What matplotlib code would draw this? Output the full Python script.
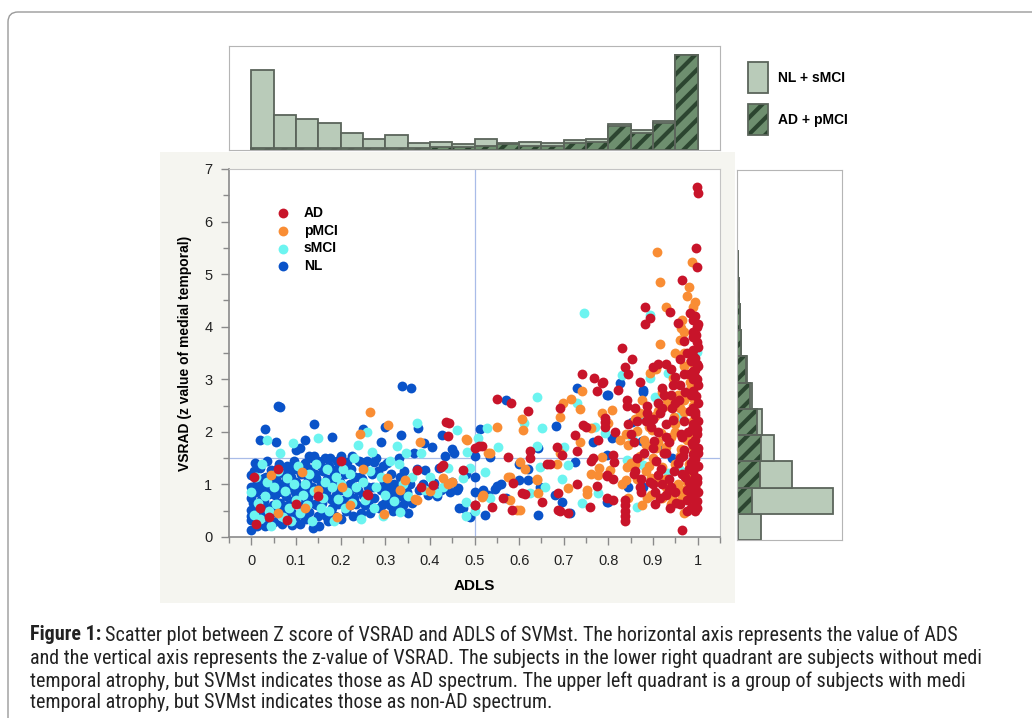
import matplotlib
matplotlib.use("Agg")
import matplotlib.pyplot as plt
import numpy as np
from matplotlib import font_manager
from matplotlib.patches import Rectangle, FancyBboxPatch
from matplotlib.transforms import IdentityTransform

plt.rcParams['font.family'] = ['Liberation Sans', 'DejaVu Sans']
plt.rcParams['hatch.linewidth'] = 3.0

# --- scatter data (ADLS, VSRAD z) ---
nl_x = [0.0, 0.0, 0.0, 0.0, 0.0, 0.0, 0.005, 0.01, 0.01, 0.012, 0.015, 0.018, 0.02, 0.022, 0.025, 0.028,
        0.03, 0.032, 0.035, 0.038, 0.04, 0.042, 0.045, 0.048, 0.05, 0.02, 0.03,
        0.055, 0.058, 0.06, 0.06, 0.065, 0.055, 0.062, 0.065, 0.068, 0.07, 0.072, 0.075, 0.078, 0.08, 0.082,
        0.085, 0.088, 0.09, 0.092, 0.095, 0.098, 0.1, 0.1, 0.1, 0.095,
        0.105, 0.108, 0.11, 0.112, 0.115, 0.118, 0.12, 0.12, 0.122, 0.125, 0.128, 0.13, 0.132, 0.135, 0.138,
        0.14, 0.14, 0.142, 0.145, 0.148, 0.15, 0.15, 0.13,
        0.152, 0.155, 0.158, 0.16, 0.162, 0.165, 0.168, 0.17, 0.172, 0.175, 0.178, 0.18, 0.18, 0.183, 0.185,
        0.188, 0.19, 0.192, 0.195, 0.198, 0.2, 0.2,
        0.205, 0.208, 0.21, 0.212, 0.215, 0.218, 0.22, 0.222, 0.225, 0.228, 0.23, 0.232, 0.235, 0.24, 0.242,
        0.245, 0.25, 0.25, 0.248,
        0.255, 0.26, 0.262, 0.265, 0.27, 0.275, 0.28, 0.285, 0.29, 0.29, 0.295, 0.3, 0.3, 0.298, 0.275, 0.245,
        0.305, 0.31, 0.312, 0.315, 0.318, 0.32, 0.322, 0.325, 0.328, 0.33, 0.338, 0.335, 0.335, 0.338, 0.34,
        0.342, 0.345, 0.348, 0.35, 0.358,
        0.355, 0.36, 0.365, 0.374, 0.372, 0.375, 0.387, 0.385, 0.39, 0.395, 0.405, 0.405, 0.41, 0.415, 0.42,
        0.425, 0.428, 0.435, 0.45, 0.44, 0.445, 0.45, 0.455, 0.46, 0.465, 0.475, 0.48, 0.49, 0.5, 0.5, 0.464,
        0.513, 0.57, 0.73, 0.683, 0.643, 0.535, 0.725, 0.55, 0.56, 0.545, 0.6, 0.62, 0.647, 0.68, 0.697, 0.524,
        0.643, 0.713, 0.8, 0.8, 0.766, 0.826, 0.797, 0.878, 0.878, 0.853, 0.808, 0.876, 0.912, 0.943, 0.797,
        0.845, 0.878, 0.797, 0.988, 0.52, 0.53, 0.57, 0.5, 0.6, 0.62,
        0.0, 0.003, 0.008, 0.012, 0.016, 0.02, 0.024, 0.028, 0.033, 0.037, 0.041, 0.046, 0.05, 0.054, 0.058,
        0.063, 0.067, 0.072, 0.077, 0.082, 0.087, 0.091, 0.096, 0.103, 0.107, 0.113, 0.117, 0.123, 0.127,
        0.133, 0.137, 0.143, 0.147, 0.153, 0.157, 0.163, 0.167, 0.173, 0.177, 0.183, 0.187, 0.193, 0.197,
        0.203, 0.213, 0.223, 0.233, 0.243, 0.253, 0.263, 0.273, 0.283, 0.293, 0.303, 0.313, 0.323, 0.333,
        0.343, 0.31, 0.32]
nl_y = [0.14, 0.32, 0.52, 0.75, 0.95, 1.18, 1.25, 0.62, 0.85, 1.05, 0.28, 0.45, 1.32, 0.7, 0.95, 1.12,
        0.2, 0.55, 1.45, 0.38, 0.82, 1.02, 1.28, 0.6, 0.28, 1.85, 2.05,
        1.1, 0.45, 0.85, 2.5, 2.47, 1.8, 1.38, 0.65, 0.25, 1.0, 1.22, 0.5, 0.78, 1.35, 0.35,
        0.95, 1.15, 0.62, 0.22, 1.45, 0.85, 1.05, 1.65, 0.4, 1.3,
        0.7, 1.7, 0.25, 1.2, 0.55, 0.9, 1.85, 1.4, 0.35, 1.05, 0.75, 0.48, 1.3, 0.95, 0.18,
        2.15, 1.55, 0.62, 1.12, 0.82, 1.45, 0.4, 1.55,
        0.2, 1.0, 0.65, 1.25, 0.45, 1.5, 0.85, 1.1, 0.3, 1.35, 0.72, 1.9, 0.55, 0.95, 1.2,
        0.4, 0.8, 1.45, 0.62, 1.05, 0.35, 1.55,
        0.9, 0.7, 1.2, 0.5, 1.42, 0.82, 0.6, 1.0, 1.55, 0.4, 0.75, 1.15, 0.62, 0.9, 1.45,
        0.45, 2.05, 0.8, 1.1,
        0.6, 1.45, 0.95, 0.45, 1.2, 0.75, 1.5, 0.55, 1.8, 0.9, 1.35, 0.65, 2.1, 1.05, 1.43, 1.43,
        0.95, 0.6, 1.2, 0.8, 0.5, 1.0, 0.7, 0.88, 0.55, 1.5, 2.87, 1.94, 0.78, 0.95, 0.6,
        1.25, 0.72, 0.85, 0.45, 2.83,
        1.0, 0.65, 1.6, 2.07, 1.3, 0.9, 1.79, 1.0, 1.27, 0.8, 1.71, 0.95, 1.03, 0.78, 1.32,
        0.9, 1.94, 1.55, 1.67, 1.0, 0.85, 1.05, 1.6, 0.9, 0.55, 0.55, 1.2, 0.38, 1.55, 0.85, 0.93,
        2.05, 2.6, 2.83, 2.11, 1.69, 1.52, 1.43, 0.97, 1.0, 0.92, 1.08, 1.08, 0.95, 0.8, 0.67, 0.42,
        0.42, 0.46, 0.67, 2.7, 1.8, 2.93, 2.7, 2.8, 2.75, 2.19, 1.88, 1.82, 1.71, 1.5, 1.56,
        0.95, 0.95, 0.67, 1.03, 0.9, 0.8, 0.75, 1.15, 1.38, 1.3,
        0.4, 0.65, 1.4, 0.2, 0.9, 1.05, 0.48, 0.68, 1.15, 0.9, 0.3, 0.5, 1.15, 0.8, 1.3,
        1.0, 0.55, 0.85, 1.1, 0.6, 1.25, 0.45, 0.7, 1.3, 0.95, 1.35, 0.4, 0.62, 1.15,
        0.85, 1.5, 1.2, 0.6, 0.9, 1.35, 0.8, 0.4, 0.95, 1.5, 1.1, 0.65, 1.3, 0.9,
        1.4, 0.65, 1.3, 0.95, 1.15, 1.3, 0.7, 0.95, 1.25, 0.6, 1.4, 0.85, 0.55, 1.15,
        1.0, 0.72, 0.62]

smci_x = [0.0, 0.005, 0.01, 0.015, 0.02, 0.025, 0.03, 0.035, 0.036, 0.04, 0.045, 0.05, 0.055, 0.06, 0.065,
          0.07, 0.075, 0.08, 0.085, 0.09, 0.094, 0.095, 0.1, 0.105, 0.11, 0.115, 0.12, 0.125, 0.13, 0.135,
          0.14, 0.145, 0.15, 0.155, 0.16, 0.165, 0.17, 0.175, 0.18, 0.185, 0.19, 0.195, 0.2, 0.205, 0.21,
          0.215, 0.22, 0.225, 0.23, 0.235, 0.24, 0.245, 0.25, 0.255, 0.26, 0.265, 0.27, 0.275, 0.28, 0.29,
          0.295, 0.3, 0.31, 0.32, 0.327, 0.33, 0.334, 0.34, 0.347, 0.35, 0.36, 0.372, 0.38, 0.39, 0.4, 0.417,
          0.43, 0.44, 0.46, 0.475, 0.48, 0.484, 0.49, 0.508,
          0.524, 0.528, 0.535, 0.553, 0.61, 0.625, 0.64, 0.64, 0.647, 0.652, 0.658, 0.697, 0.7, 0.71, 0.73,
          0.74, 0.746, 0.77, 0.777, 0.793, 0.831, 0.842, 0.853, 0.864, 0.878, 0.878, 0.894, 0.894, 0.905,
          0.934, 0.934, 0.956, 0.96, 0.983, 0.999, 0.48, 0.5]
smci_y = [0.85, 0.42, 1.15, 0.65, 0.35, 1.38, 0.78, 1.05, 1.84, 0.5, 0.2, 0.95, 0.62, 1.25, 1.6,
          0.38, 0.88, 1.12, 0.55, 0.3, 1.79, 1.0, 0.7, 1.35, 0.45, 0.8, 1.0, 0.6, 1.2, 0.3,
          0.88, 1.38, 1.88, 0.55, 0.75, 1.05, 1.3, 0.5, 0.95, 0.3, 1.15, 0.72, 1.0, 1.3, 0.55,
          0.85, 1.2, 0.65, 1.5, 0.95, 1.75, 0.35, 1.05, 0.7, 2.0, 1.25, 1.62, 0.55, 0.95, 1.15,
          0.4, 0.8, 1.45, 0.68, 1.73, 1.38, 0.48, 1.0, 1.6, 0.78, 1.15, 2.17, 1.6, 0.9, 1.15, 0.84,
          0.95, 1.31, 2.03, 1.12, 0.67, 1.62, 1.31, 1.88,
          1.24, 2.07, 0.74, 1.71, 2.17, 0.84, 2.66, 1.73, 1.33, 2.07, 0.95, 1.1, 1.71, 1.37, 2.55,
          0.65, 4.26, 2.09, 0.84, 1.98, 3.08, 1.46, 1.9, 0.57, 2.28, 1.37, 4.22, 3.02, 2.66,
          3.12, 1.22, 2.28, 1.27, 2.8, 3.52, 0.4, 0.5]

pmci_x = [0.043, 0.114, 0.193, 0.204, 0.244, 0.266, 0.298, 0.305, 0.307, 0.334, 0.345, 0.367, 0.372, 0.378,
          0.4, 0.43, 0.44, 0.48, 0.517, 0.06, 0.15, 0.22, 0.12, 0.25, 0.483, 0.45, 0.535, 0.58, 0.602, 0.64,
          0.551, 0.607, 0.609, 0.699, 0.717, 0.737, 0.692, 0.741, 0.531, 0.602, 0.614, 0.692, 0.685, 0.64,
          0.576, 0.71, 0.752, 0.752, 0.761, 0.52, 0.58, 0.595, 0.643, 0.78, 0.777, 0.737, 0.76,
          0.909, 0.916, 0.929, 0.916, 0.988, 0.981, 0.977, 0.994, 0.99, 0.965, 0.963, 0.97, 0.961, 0.95,
          0.894, 0.907, 0.983, 0.97, 0.945, 0.95, 0.983, 0.875, 0.932, 0.97, 0.99, 0.87, 0.91, 0.946, 0.97,
          0.993, 0.808, 0.786, 0.8, 0.865, 0.898, 0.918, 0.95, 0.99, 0.827, 0.845, 0.885, 0.906, 0.93,
          0.963, 0.99, 0.842, 0.86, 0.89, 0.92, 0.95, 0.98, 0.995, 0.84, 0.865, 0.895, 0.93, 0.955,
          0.975, 0.995, 0.845, 0.887, 0.92, 0.935, 0.965, 0.98, 0.995, 0.786, 0.804, 0.985, 0.99, 0.975,
          0.96, 0.985, 0.94, 0.97, 0.99, 0.955,
          0.995, 0.99, 0.985, 0.98, 0.975, 0.97, 0.965, 0.96, 0.955, 0.95, 0.945, 0.94, 0.935, 0.93, 0.925,
          0.92, 0.915, 0.91, 0.905, 0.9, 0.895, 0.89, 0.885, 0.88, 0.875, 0.87, 0.86, 0.85, 0.84, 0.83]
pmci_y = [1.18, 1.24, 0.38, 0.95, 1.96, 2.38, 0.44, 1.12, 2.13, 0.89, 1.08, 0.72, 0.7, 1.81,
          0.87, 1.12, 1.0, 1.86, 0.76, 0.45, 0.9, 0.6, 0.55, 1.3, 1.84, 1.05, 1.6, 1.14, 0.51, 1.08,
          2.09, 2.24, 2.03, 2.55, 2.62, 2.43, 2.28, 2.78, 1.6, 1.43, 1.29, 1.6, 1.39, 1.1,
          1.14, 0.93, 0.89, 0.82, 1.2, 0.8, 0.7, 0.51, 0.84, 1.31, 1.17, 1.8, 2.07,
          5.42, 4.85, 4.37, 3.67, 5.23, 4.75, 4.58, 4.47, 4.37, 4.12, 3.97, 3.9, 3.75, 3.5,
          3.12, 3.2, 3.33, 3.25, 3.02, 2.93, 2.95, 2.6, 2.6, 2.6, 2.64, 2.36, 2.4, 2.28, 2.38,
          2.27, 2.42, 2.36, 2.17, 2.02, 2.03, 1.97, 2.0, 1.97, 1.85, 1.75, 1.75, 1.7, 1.72,
          1.67, 1.72, 1.33, 1.38, 1.35, 1.33, 1.38, 1.38, 1.33, 1.08, 1.1, 1.12, 1.1, 1.0,
          1.05, 0.95, 0.74, 0.74, 0.74, 0.85, 0.74, 0.85, 0.62, 1.52, 1.27, 3.05, 2.5, 1.9,
          1.55, 1.2, 0.62, 0.45, 0.8, 2.7,
          1.6, 2.2, 2.85, 1.25, 1.85, 3.5, 0.9, 2.45, 1.4, 2.15, 0.7, 1.9, 2.5, 0.95, 1.6,
          2.75, 1.05, 1.8, 2.3, 1.5, 0.8, 2.1, 1.25, 1.85, 0.6, 1.55, 2.25, 1.4, 1.95, 1.0]

ad_x = [0.01, 0.005, 0.02, 0.04, 0.06, 0.08, 0.1, 0.15, 0.2, 0.26, 0.262, 0.372, 0.408, 0.425, 0.43, 0.437,
        0.443, 0.44, 0.475, 0.5, 0.51, 0.5, 0.38,
        0.55, 0.582, 0.62, 0.741, 0.768, 0.786, 0.775, 0.692, 0.517, 0.576, 0.625, 0.625, 0.685, 0.697,
        0.663, 0.67, 0.73, 0.726, 0.744, 0.75, 0.777, 0.793, 0.793, 0.766, 0.76, 0.797, 0.775, 0.73, 0.688,
        0.587, 0.607, 0.614, 0.564, 0.54, 0.692, 0.71, 0.759, 0.5, 0.652, 0.585, 0.688,
        0.999, 1.0, 0.997, 0.999, 0.965, 0.882, 0.938, 0.894, 0.882, 0.983, 0.995, 0.999, 0.99, 0.99, 0.999,
        0.97, 0.956, 0.831, 0.853, 0.9, 0.912, 0.838, 0.845, 0.788, 0.822, 0.87, 0.93, 0.94, 0.96, 0.99,
        0.999, 0.995, 0.999, 0.92, 0.95, 0.842, 0.842, 0.86, 0.887, 0.92, 0.793, 0.815, 0.845, 0.895, 0.93,
        0.945, 0.99, 0.999, 0.857, 0.903, 0.935, 0.988, 1.0, 0.81, 0.813, 0.865, 0.907, 0.96, 0.99, 0.797,
        0.81, 0.872, 0.91, 0.935, 0.965, 0.995, 0.999, 0.995, 0.838, 0.838, 0.838, 0.838, 0.838, 0.905,
        0.915, 0.938, 0.965, 0.983, 0.999, 0.999, 0.995, 0.81, 0.797,
        0.995, 0.99, 1.0, 0.992, 0.998, 0.99, 1.0, 0.995, 0.99, 1.0, 0.993, 0.998, 0.99, 1.0, 0.995, 0.99,
        1.0, 0.996, 0.99, 1.0, 0.994, 0.99, 1.0, 0.995, 0.99, 1.0, 0.996, 1.0, 0.99,
        0.975, 0.98, 0.97, 0.978, 0.982, 0.972, 0.98, 0.976, 0.96, 0.955, 0.965, 0.95, 0.94, 0.925, 0.915,
        0.9, 0.885, 0.87, 0.86, 0.975, 0.98, 0.97, 0.945, 0.93,
        0.985, 0.988, 0.992, 0.985, 0.99, 0.987, 0.993, 0.986, 0.99, 0.985, 0.975, 0.972, 0.968, 0.962,
        0.958, 0.952, 0.947, 0.942, 0.936, 0.93, 0.925, 0.918, 0.912, 0.905, 0.9, 0.893, 0.886, 0.88,
        0.872, 0.865, 0.858, 0.85, 0.97, 0.96, 0.95, 0.94, 0.93, 0.92, 0.91, 0.9]
ad_y = [0.25, 1.15, 0.55, 0.38, 1.3, 0.32, 0.62, 0.78, 1.45, 0.82, 0.8, 1.27, 0.99, 1.33, 1.37, 2.19,
        2.17, 1.92, 1.27, 1.69, 1.73, 0.6, 0.95,
        2.62, 2.55, 2.4, 3.1, 3.02, 2.93, 2.78, 2.45, 1.73, 1.52, 1.63, 1.5, 1.71, 1.56,
        1.39, 1.39, 1.63, 1.94, 2.13, 2.1, 1.84, 2.19, 2.09, 1.5, 1.44, 1.16, 0.97, 1.0, 0.84,
        1.03, 0.84, 0.82, 0.74, 0.57, 0.49, 0.46, 0.57, 0.6, 0.67, 0.51, 0.51,
        6.65, 6.54, 5.49, 5.13, 4.89, 4.37, 4.28, 4.16, 4.05, 4.26, 4.2, 3.99, 3.9, 3.8, 3.7,
        3.72, 4.07, 3.6, 3.38, 3.24, 3.3, 3.23, 3.1, 2.95, 2.8, 2.95, 3.3, 3.2, 3.38, 3.45,
        3.3, 3.18, 3.0, 2.83, 3.05, 2.6, 2.5, 2.45, 2.5, 2.45, 2.26, 2.0, 2.15, 2.1, 2.15,
        2.22, 2.15, 2.05, 1.8, 1.82, 1.8, 1.78, 1.6, 1.56, 1.42, 1.5, 1.45, 1.5, 1.47, 1.18,
        1.1, 1.1, 1.18, 1.1, 1.2, 1.15, 1.05, 0.95, 0.7, 0.6, 0.5, 0.4, 0.3, 0.86,
        0.75, 0.55, 0.13, 0.74, 0.68, 0.55, 0.5, 0.7, 0.74,
        0.6, 0.75, 0.85, 1.0, 1.12, 1.25, 1.35, 1.48, 1.58, 1.7, 1.85, 1.95, 2.08, 2.2, 2.32, 2.45,
        2.55, 2.68, 2.78, 2.9, 3.05, 3.15, 3.25, 3.4, 3.55, 3.62, 3.85, 4.05, 4.12,
        0.9, 1.3, 1.65, 2.0, 2.4, 2.75, 3.1, 3.5, 0.62, 1.4, 1.9, 2.55, 0.95, 1.6, 2.35,
        1.0, 2.2, 0.95, 1.25, 0.5, 1.05, 2.2, 2.9, 0.8,
        0.55, 0.8, 1.1, 1.4, 1.75, 2.05, 2.38, 2.7, 3.0, 3.35, 0.7, 1.15, 1.55, 1.95,
        2.6, 0.65, 1.25, 2.45, 0.9, 1.6, 2.7, 1.3, 2.0, 0.62, 1.7, 1.05, 2.35, 1.6,
        0.85, 2.2, 1.2, 1.95, 3.1, 2.9, 0.85, 2.7, 1.9, 1.0, 2.55, 2.25]

# --- marginal histograms (heights) ---
top_edges = np.arange(0, 1.0001, 0.05)
top_light = [233, 98, 85, 73, 43, 25, 39, 17, 15, 9, 20, 5, 13, 10, 10, 9, 5, 10, 6, 2]   # NL + sMCI
top_dark = [7, 7, 7, 7, 7, 7, 7, 5, 10, 8, 12, 17, 12, 12, 20, 24, 72, 50, 80, 284]        # AD + pMCI
right_edges = np.arange(-0.05, 5.5, 0.5)
right_light = [67, 242, 97, 40, 14, 7, 3, 2, 0, 0, 0]
right_dark = [3, 45, 67, 70, 60, 37, 27, 10, 7, 4, 2]

col_ad = '#c8142a'
col_pmci = '#f98d34'
col_smci = '#6cf4f0'
col_nl = '#0a53c9'
light_green = '#b9cbb9'
mid_green = '#6e8f6f'
dark_green = '#2c4530'
bar_edge = '#5b655b'

W, H = 1032, 718
fig = plt.figure(figsize=(W / 100, H / 100), dpi=100)
fig.patch.set_facecolor('white')


def fx(px):
    return px / W


def fy(py):
    return 1 - py / H


# outer rounded box
fig.patches.append(FancyBboxPatch((8, -30), 1200, H - 12 + 30, boxstyle='round,pad=0,rounding_size=10',
                                  transform=IdentityTransform(), fill=False, edgecolor='#9a9a9a', lw=1,
                                  zorder=-20))
# light grey panel behind the scatter
fig.patches.append(Rectangle((fx(160), fy(603)), fx(735) - fx(160), fy(152) - fy(603),
                             transform=fig.transFigure, facecolor='#f5f5f0', edgecolor='none', zorder=-10))

# main scatter
ax = fig.add_axes([fx(229), fy(537), fx(720) - fx(229), fy(169) - fy(537)])
ax.axvline(0.5, color='#a9bce8', lw=0.9, zorder=1)
ax.axhline(1.5, color='#a9bce8', lw=0.9, zorder=1)
ms = 50
ax.scatter(nl_x, nl_y, s=ms, c=col_nl, linewidths=0, zorder=2, label='NL')
ax.scatter(smci_x, smci_y, s=ms, c=col_smci, linewidths=0, zorder=2, label='sMCI')
ax.scatter(pmci_x, pmci_y, s=ms, c=col_pmci, linewidths=0, zorder=2, label='pMCI')
ax.scatter(ad_x, ad_y, s=ms, c=col_ad, linewidths=0, zorder=2, label='AD')
ax.set_xlim(-0.05, 1.05)
ax.set_ylim(0, 7)
ax.set_xticks(np.arange(0, 1.01, 0.1))
ax.set_xticklabels(['0', '0.1', '0.2', '0.3', '0.4', '0.5', '0.6', '0.7', '0.8', '0.9', '1'])
ax.set_xticks(np.arange(-0.05, 1.06, 0.1), minor=True)
ax.set_yticks(range(8))
ax.set_yticks(np.arange(0.5, 7, 1), minor=True)
ax.tick_params(which='both', direction='out', color='#8a8a8a', labelsize=10.5, labelcolor='#222222')
ax.tick_params(which='major', length=6, width=1, pad=6)
ax.tick_params(which='minor', length=4, width=1)
for s in ['left', 'bottom']:
    ax.spines[s].set_color('#8a8a8a')
    ax.spines[s].set_linewidth(1.2)
for s in ['top', 'right']:
    ax.spines[s].set_color('#c4c4c4')
ax.set_xlabel('ADLS', fontsize=11, fontweight='bold', labelpad=8)
ax.set_ylabel('VSRAD (z value of medial temporal)', fontsize=10, fontweight='bold', labelpad=9)

h, l = ax.get_legend_handles_labels()
order = [l.index(k) for k in ['AD', 'pMCI', 'sMCI', 'NL']]
ax.legend([h[i] for i in order], [l[i] for i in order], loc='upper left', bbox_to_anchor=(0.096, 0.9),
          frameon=False, handlelength=1.0, handletextpad=1.0, labelspacing=0.27, borderpad=0,
          borderaxespad=0, prop={'weight': 'bold', 'size': 10})

# top histogram
axt = fig.add_axes([fx(229), fy(150), fx(720) - fx(229), fy(46) - fy(150)])
total_top = np.array(top_light) + np.array(top_dark)
widths = np.diff(top_edges)
axt.bar(top_edges[:-1], total_top, width=widths, align='edge', color=light_green, edgecolor=bar_edge, lw=1.3)
axt.bar(top_edges[:-1], top_dark, width=widths, align='edge', color=mid_green, edgecolor=dark_green,
        hatch='//', lw=0)
axt.bar(top_edges[:-1], top_dark, width=widths, align='edge', fill=False, edgecolor=bar_edge, lw=1.3)
axt.set_xlim(-0.05, 1.05)
axt.set_ylim(0, max(total_top) * 1.09)
axt.set_xticks([])
axt.set_yticks([])
for s in axt.spines.values():
    s.set_color('#b5b5b5')

# right histogram
axr = fig.add_axes([fx(737), fy(540), fx(842) - fx(737), fy(170) - fy(540)])
total_right = np.array(right_light) + np.array(right_dark)
heights = np.diff(right_edges)
axr.barh(right_edges[:-1], total_right, height=heights, align='edge', color=light_green, edgecolor=bar_edge,
         lw=1.3)
axr.barh(right_edges[:-1], right_dark, height=heights, align='edge', color=mid_green, edgecolor=dark_green,
         hatch='//', lw=0)
axr.barh(right_edges[:-1], right_dark, height=heights, align='edge', fill=False, edgecolor=bar_edge, lw=1.3)
axr.set_ylim(-0.05, 7.0)
axr.set_xlim(-1, 315)
axr.set_xticks([])
axr.set_yticks([])
for s in axr.spines.values():
    s.set_color('#b5b5b5')

# histogram legend
for py, hatched in [(62, False), (104, True)]:
    if hatched:
        fig.patches.append(Rectangle((fx(748), fy(py + 31)), fx(768) - fx(748), fy(py) - fy(py + 31),
                                     transform=fig.transFigure, facecolor=mid_green, edgecolor=dark_green,
                                     hatch='//', lw=0))
    fig.patches.append(Rectangle((fx(748), fy(py + 31)), fx(768) - fx(748), fy(py) - fy(py + 31),
                                 transform=fig.transFigure, facecolor=light_green if not hatched else 'none',
                                 edgecolor=bar_edge, lw=1.3))
fig.text(fx(778), fy(78), 'NL + sMCI', fontsize=10, fontweight='bold', va='center', ha='left')
fig.text(fx(778), fy(120), 'AD + pMCI', fontsize=10, fontweight='bold', va='center', ha='left')

# caption, in the narrowest installed sans font, sized so the longest line nearly fills the width
names = {f.name for f in font_manager.fontManager.ttflist}
cap_family = 'Liberation Sans'
for cand in ['Liberation Sans Narrow', 'Arial Narrow', 'DejaVu Sans Condensed', 'Roboto Condensed',
             'Open Sans Condensed', 'Noto Sans Condensed']:
    if cand in names:
        cap_family = cand
        break
lines = ["Scatter plot between Z score of VSRAD and ADLS of SVMst. The horizontal axis represents the value of ADS",
         "and the vertical axis represents the z-value of VSRAD. The subjects in the lower right quadrant are subjects without medi",
         "temporal atrophy, but SVMst indicates those as AD spectrum. The upper left quadrant is a group of subjects with medi",
         "temporal atrophy, but SVMst indicates those as non-AD spectrum."]
ys = [635, 658, 681, 703]
cap_size = 12
probe = fig.text(0, 0, lines[1], fontsize=cap_size, family=cap_family)
fig.canvas.draw()
wid = probe.get_window_extent().width
probe.remove()
cap_size = min(14.5, cap_size * 990 / wid)

t0 = fig.text(fx(30), fy(ys[0]), 'Figure 1:', fontsize=cap_size, fontweight='bold', family=cap_family,
              va='center', ha='left', color='#222222')
fig.canvas.draw()
bb = t0.get_window_extent()
fig.text((bb.x1 + 4) / W, fy(ys[0]), lines[0], fontsize=cap_size, family=cap_family, va='center', ha='left',
         color='#222222')
for ln, yy in zip(lines[1:], ys[1:]):
    fig.text(fx(30), fy(yy), ln, fontsize=cap_size, family=cap_family, va='center', ha='left', color='#222222')

fig.savefig('out.png', dpi=100)
